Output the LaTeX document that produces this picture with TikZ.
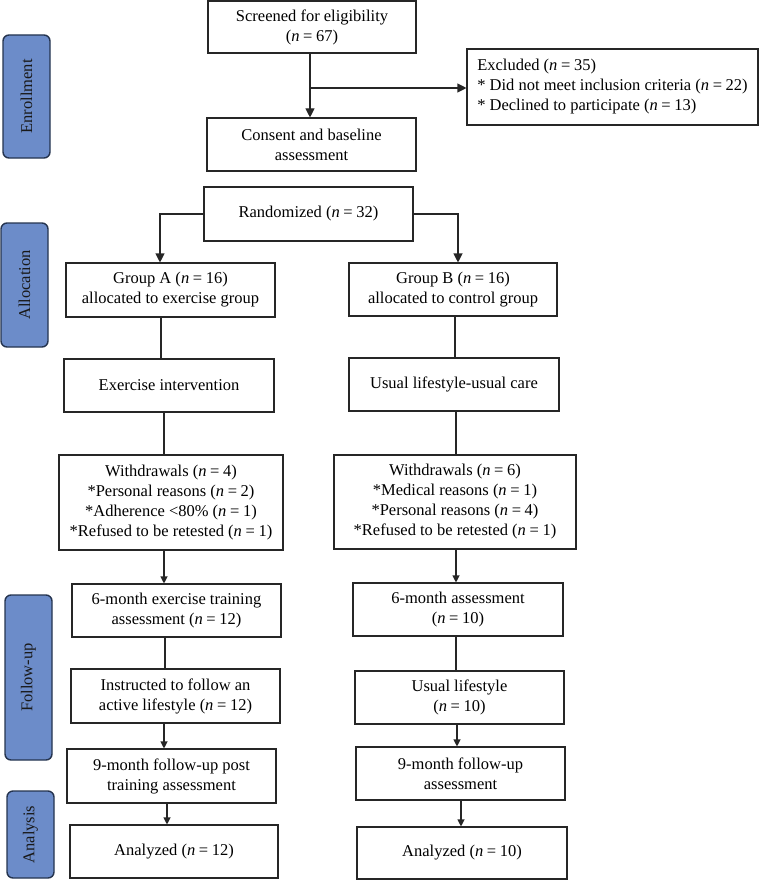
\documentclass[tikz,border=0pt]{standalone}
\usepackage{fontspec}
\setmainfont{Liberation Serif}
\usetikzlibrary{arrows.meta}
\definecolor{stagefill}{HTML}{6C8CC9}
\definecolor{stageedge}{HTML}{25344F}
\newcommand{\nn}[1]{(\textit{n}\hspace{0.22em}=\hspace{0.22em}#1)}
\begin{document}
\begin{tikzpicture}[x=1pt,y=-1pt,
  box/.style={draw=black!85, line width=1.1pt, fill=white, align=center, inner sep=2pt,
    font=\fontsize{16.5}{20}\selectfont},
  stage/.style={draw=stageedge, line width=1.4pt, fill=stagefill, rounded corners=6pt},
  stagetext/.style={rotate=90, font=\fontsize{16.5}{18}\selectfont, text=black!90},
  conn/.style={line width=1.1pt, draw=black!85},
  arr/.style={conn, -{Triangle[width=9pt,length=9pt]}},
  sarr/.style={conn, -{Triangle[width=7pt,length=7pt]}}]
\useasboundingbox (0,0) rectangle (760,880);

% stage labels
\node[stage, minimum width=47pt, minimum height=123pt] (enr) at (26.5,96.5) {};
\node[stagetext] (enrt) at (enr.center) {Enrollment};
\node[stage, minimum width=47pt, minimum height=124pt] (alo) at (24.5,285) {};
\node[stagetext] (alot) at (alo.center) {Allocation};
\node[stage, minimum width=47pt, minimum height=165pt] (fol) at (28.5,677.5) {};
\node[stagetext] (folt) at (fol.center) {Follow-up};
\node[stage, minimum width=47pt, minimum height=87pt] (ana) at (30.5,834.5) {};
\node[stagetext] (anat) at (ana.center) {Analysis};

% enrollment
\node[box, minimum width=208pt, minimum height=52pt] (scr) at (312,27) {Screened for eligibility\\\nn{67}};
\node[box, minimum width=291pt, minimum height=76pt, align=left] (exc) at (612.5,87)
  {Excluded \nn{35}\\ * Did not meet inclusion criteria \nn{22}\\ * Declined to participate \nn{13}};
\node[box, minimum width=209pt, minimum height=53pt] (con) at (311.5,144.5) {Consent and baseline\\assessment};
\node[box, minimum width=209pt, minimum height=54pt] (ran) at (308.5,214) {Randomized \nn{32}};

% left column
\node[box, minimum width=209pt, minimum height=54pt] (ga) at (170.5,290) {Group A \nn{16}\\allocated to exercise group};
\node[box, minimum width=210pt, minimum height=53pt] (exa) at (169,385.5) {Exercise intervention};
\node[box, minimum width=224pt, minimum height=95pt] (wa) at (171,502.5)
  {Withdrawals \nn{4}\\*Personal reasons \nn{2}\\*Adherence <80\% \nn{1}\\*Refused to be retested \nn{1}};
\node[box, minimum width=209pt, minimum height=53pt] (sa) at (176.5,610.5) {6-month exercise training\\assessment \nn{12}};
\node[box, minimum width=209pt, minimum height=54pt] (ia) at (175.5,696) {Instructed to follow an\\active lifestyle \nn{12}};
\node[box, minimum width=209pt, minimum height=54pt] (na) at (171.5,776) {9-month follow-up post\\training assessment};
\node[box, minimum width=208pt, minimum height=53pt] (aa) at (174,851.5) {Analyzed \nn{12}};

% right column
\node[box, minimum width=208pt, minimum height=53pt] (gb) at (453,289.5) {Group B \nn{16}\\allocated to control group};
\node[box, minimum width=210pt, minimum height=53pt] (ucb) at (454,384.5) {Usual lifestyle-usual care};
\node[box, minimum width=242pt, minimum height=94pt] (wb) at (455,502)
  {Withdrawals \nn{6}\\*Medical reasons \nn{1}\\*Personal reasons \nn{4}\\*Refused to be retested \nn{1}};
\node[box, minimum width=210pt, minimum height=53pt] (sb) at (458,609.5) {6-month assessment\\\nn{10}};
\node[box, minimum width=209pt, minimum height=53pt] (ub) at (459.5,697.5) {Usual lifestyle\\\nn{10}};
\node[box, minimum width=209pt, minimum height=53pt] (nb) at (460.5,773.5) {9-month follow-up\\assessment};
\node[box, minimum width=210pt, minimum height=52pt] (ab) at (462,853) {Analyzed \nn{10}};

% helper coordinates
\coordinate (cx) at (310,0);
\coordinate (br) at (310,88);
\coordinate (la) at (160,0);
\coordinate (lb) at (458,0);
\coordinate (c1) at (161,0);
\coordinate (c2) at (164,0);
\coordinate (c3) at (165,0);
\coordinate (c4) at (167,0);
\coordinate (d1) at (455,0);
\coordinate (d2) at (456,0);
\coordinate (d3) at (457,0);
\coordinate (d4) at (461,0);

% connectors
\draw[arr] (scr.south -| cx) -- (con.north -| cx);
\draw[arr] (br) -- (br -| exc.west);
\draw[arr] (ran.west) -| (ga.north -| la);
\draw[arr] (ran.east) -| (gb.north -| lb);

\draw[conn] (ga.south -| c1) -- (exa.north -| c1);
\draw[conn] (exa.south -| c2) -- (wa.north -| c2);
\draw[sarr] (wa.south -| c2) -- (sa.north -| c2);
\draw[conn] (sa.south -| c3) -- (ia.north -| c3);
\draw[sarr] (ia.south -| c2) -- (na.north -| c2);
\draw[sarr] (na.south -| c4) -- (aa.north -| c4);

\draw[conn] (gb.south -| d1) -- (ucb.north -| d1);
\draw[conn] (ucb.south -| d2) -- (wb.north -| d2);
\draw[sarr] (wb.south -| d2) -- (sb.north -| d2);
\draw[conn] (sb.south -| d2) -- (ub.north -| d2);
\draw[sarr] (ub.south -| d3) -- (nb.north -| d3);
\draw[sarr] (nb.south -| d4) -- (ab.north -| d4);
\end{tikzpicture}
\end{document}
